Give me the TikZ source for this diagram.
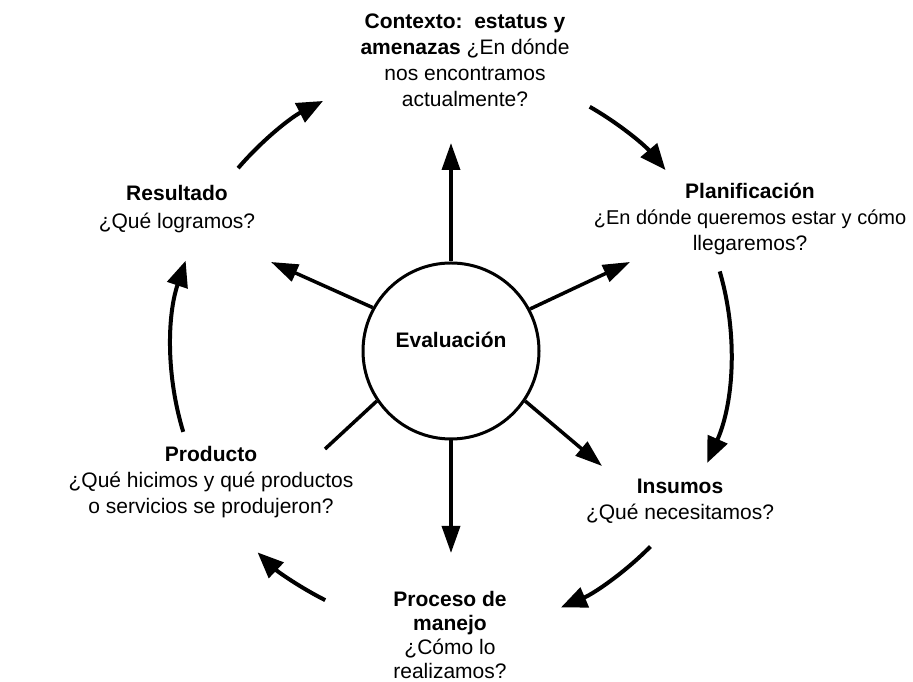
\documentclass[tikz,border=0pt]{standalone}
\usepackage{fontspec}
\setmainfont{Liberation Sans}
\usetikzlibrary{arrows.meta}
\begin{document}
\begin{tikzpicture}[x=1pt,y=1pt,
  lbl/.style={align=center, font=\fontsize{21}{26}\selectfont, inner sep=0pt},
  ring/.style={line width=4pt, -{Triangle[length=26pt,width=21pt]}},
  spoke/.style={line width=3.5pt, -{Triangle[length=27pt,width=18pt]}},
  spokeplain/.style={line width=3.5pt},
]
\useasboundingbox (0,0) rectangle (913,682);
\coordinate (O) at (451,332);
% central circle
\node[circle, draw, line width=3pt, minimum size=176pt, inner sep=0pt] (eval) at (451,331) {};
\node[lbl, font=\fontsize{21}{26}\selectfont\bfseries] (evaltxt) at (451,342) {Evaluación};
% spoke ends
\coordinate (tU) at (451,539);
\coordinate (tUL) at (271,420);
\coordinate (tUR) at (630,420);
\coordinate (tD) at (451,129);
\coordinate (tLR) at (602,216);
\coordinate (tLL) at (325,233);
\draw[spoke] (eval.90) -- (tU);
\draw[spoke] (eval.151.7) -- (tUL);
\draw[spoke] (eval.28.3) -- (tUR);
\draw[spoke] (eval.270) -- (tD);
\draw[spoke] (eval.-34.4) -- (tLR);
\draw[spokeplain] (eval.214) -- (tLL);
% ring arrows
\draw[ring] (O) ++(139.5:280) arc[start angle=139.5,end angle=117.2,radius=280];
\draw[ring] (O) ++(60.3:280) arc[start angle=60.3,end angle=40,radius=280];
\draw[ring] (O) ++(16.3:280) arc[start angle=16.3,end angle=-23.8,radius=280];
\draw[ring] (O) ++(-44.6:280) arc[start angle=-44.6,end angle=-66.9,radius=280];
\draw[ring] (O) ++(243.3:280) arc[start angle=243.3,end angle=226.3,radius=280];
\draw[ring] (O) ++(197:280) arc[start angle=197,end angle=161.4,radius=280];
% labels
\node[lbl] (ctx) at (465,622) {\textbf{Contexto:\ \ estatus y}\\ \textbf{amenazas} ¿En dónde\\ nos encontramos\\ actualmente?};
\node[lbl] (plan) at (750,463) {\textbf{Planificación}\\ {\fontsize{20}{26}\selectfont ¿En dónde queremos estar y cómo}\\ llegaremos?};
\node[lbl, font=\fontsize{21}{28}\selectfont] (res) at (177,473) {\textbf{Resultado}\\ ¿Qué logramos?};
\node[lbl] (prod) at (211,200) {\textbf{Producto}\\ ¿Qué hicimos y qué productos\\ o servicios se produjeron?};
\node[lbl] (ins) at (680,181) {\textbf{Insumos}\\ ¿Qué necesitamos?};
\node[lbl, font=\fontsize{21}{24}\selectfont] (proc) at (450,47) {\textbf{Proceso de}\\ \textbf{manejo}\\ ¿Cómo lo\\ realizamos?};
\end{tikzpicture}
\end{document}
